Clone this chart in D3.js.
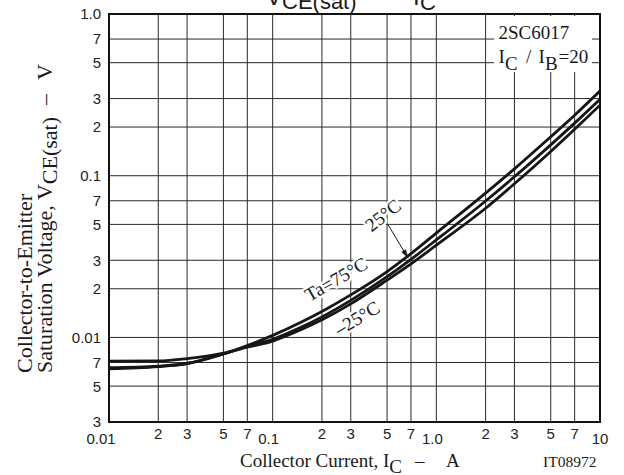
<!DOCTYPE html>
<html>
<head>
<meta charset="utf-8">
<script src="https://cdn.jsdelivr.net/npm/d3@7/dist/d3.min.js"></script>
<style>
  html, body { margin: 0; padding: 0; background: #fff; }
  svg { display: block; }
  .serif { font-family: "Liberation Serif", "Times New Roman", serif; }
  .sans { font-family: "Liberation Sans", Arial, sans-serif; }
</style>
</head>
<body>
<svg id="chart" width="624" height="475"></svg>
<script>
// ---- data ----
const currents = [0.01, 0.02, 0.03, 0.05, 0.07, 0.1, 0.15, 0.2, 0.3, 0.5, 0.7, 1, 2, 3, 5, 7, 10];
const vce75  = [0.0064, 0.0066, 0.0069, 0.0079, 0.0089, 0.0103, 0.01247, 0.01448, 0.01832, 0.02554, 0.03297, 0.0442, 0.0780, 0.1103, 0.1741, 0.2368, 0.334];
const vce25  = [0.0065, 0.00665, 0.0069, 0.0079, 0.0088, 0.00975, 0.0116, 0.0134, 0.01695, 0.02375, 0.0304, 0.0401, 0.0698, 0.0985, 0.1552, 0.2115, 0.297];
const vceM25 = [0.00714, 0.00716, 0.0074, 0.0080, 0.0087, 0.00950, 0.0112, 0.01285, 0.01613, 0.0226, 0.0285, 0.0372, 0.0629, 0.0892, 0.1412, 0.1938, 0.273];

const xTicks = [0.01, 0.02, 0.03, 0.05, 0.07, 0.1, 0.2, 0.3, 0.5, 0.7, 1, 2, 3, 5, 7, 10];
const xTickLabels = ["0.01","2","3","5","7","0.1","2","3","5","7","1.0","2","3","5","7","10"];
const yTicks = [0.003, 0.005, 0.007, 0.01, 0.02, 0.03, 0.05, 0.07, 0.1, 0.2, 0.3, 0.5, 0.7, 1.0];
const yTickLabels = ["3","5","7","0.01","2","3","5","7","0.1","2","3","5","7","1.0"];

// curve labels (anchor in data units: current, voltage), rotation
const curveLabels = [
  { text: "Ta=75°C", i: 0.2436, v: 0.02297, rot: -30 },
  { text: "25°C",    i: 0.4716, v: 0.0571,  rot: -38 },
  { text: "\u201325°C", i: 0.3273, v: 0.01318, rot: -31 }
];
const arrowFrom = { i: 0.5084, v: 0.04956 };
const arrowTo   = { i: 0.6735, v: 0.03085 };

// ---- layout ----
const L = 109, R = 600, T = 14, B = 422;
const svg = d3.select("#chart");
const x = d3.scaleLog().domain([0.01, 10]).range([L, R]);
const y = d3.scaleLog().domain([0.003, 1]).range([B, T]);

// grid
const grid = svg.append("g").attr("stroke", "#2a2a2a").attr("stroke-width", 1).attr("fill", "none");
xTicks.slice(1, -1).forEach(t => {
  grid.append("line").attr("x1", x(t)).attr("x2", x(t)).attr("y1", T).attr("y2", B);
});
yTicks.slice(1, -1).forEach(t => {
  grid.append("line").attr("x1", L).attr("x2", R).attr("y1", y(t)).attr("y2", y(t));
});

// legend box (white) covering grid
svg.append("rect").attr("x", 494).attr("y", 16).attr("width", 98).attr("height", 56).attr("fill", "#fff");

// curves
const series = [vce75, vce25, vceM25];
const line = d3.line().x(d => x(d[0])).y(d => y(d[1])).curve(d3.curveMonotoneX);
svg.append("clipPath").attr("id", "plotclip").append("rect")
  .attr("x", L).attr("y", T).attr("width", R - L).attr("height", B - T);
series.forEach(s => {
  svg.append("path")
    .attr("d", line(currents.map((c, k) => [c, s[k]])))
    .attr("fill", "none").attr("stroke", "#161616").attr("stroke-width", 2.8)
    .attr("stroke-linecap", "round")
    .attr("clip-path", "url(#plotclip)");
});

// frame
svg.append("rect").attr("x", L).attr("y", T).attr("width", R - L).attr("height", B - T)
  .attr("fill", "none").attr("stroke", "#111").attr("stroke-width", 2);

// tick labels
const decade = v => Math.abs(Math.log10(v) - Math.round(Math.log10(v))) < 1e-9;
svg.append("g").attr("class", "sans").attr("font-size", 15).attr("fill", "#222")
  .selectAll("text").data(xTicks).join("text")
  .attr("x", (d, k) => x(d) + (decade(d) ? (k === 0 ? -8 : (k === xTicks.length - 1 ? 0 : -4)) : 0))
  .attr("y", d => decade(d) ? 444 : 439)
  .attr("text-anchor", "middle")
  .text((d, k) => xTickLabels[k]);

svg.append("g").attr("class", "sans").attr("font-size", 15).attr("fill", "#222")
  .selectAll("text").data(yTicks).join("text")
  .attr("x", 101)
  .attr("y", d => y(d))
  .attr("dy", "0.36em")
  .attr("text-anchor", "end")
  .text((d, k) => yTickLabels[k]);

// curve labels with white halo
curveLabels.forEach(c => {
  svg.append("text").attr("class", "serif")
    .attr("font-size", 19)
    .attr("text-anchor", "middle")
    .attr("dy", "0.35em")
    .attr("transform", `translate(${x(c.i)},${y(c.v)}) rotate(${c.rot})`)
    .attr("fill", "#1a1a1a")
    .attr("stroke", "#fff").attr("stroke-width", 5).attr("paint-order", "stroke")
    .attr("stroke-linejoin", "round")
    .text(c.text);
});

// arrow
const ax1 = x(arrowFrom.i), ay1 = y(arrowFrom.v), ax2 = x(arrowTo.i), ay2 = y(arrowTo.v);
svg.append("line").attr("x1", ax1).attr("y1", ay1).attr("x2", ax2).attr("y2", ay2)
  .attr("stroke", "#1a1a1a").attr("stroke-width", 1);
{
  const ang = Math.atan2(ay2 - ay1, ax2 - ax1);
  const len = 9, w = 2.6;
  const bx = ax2 - len * Math.cos(ang), by = ay2 - len * Math.sin(ang);
  const px = -Math.sin(ang) * w, py = Math.cos(ang) * w;
  svg.append("path")
    .attr("d", `M${ax2},${ay2}L${bx + px},${by + py}L${bx - px},${by - py}Z`)
    .attr("fill", "#1a1a1a");
}

// legend text
const lg = svg.append("g").attr("class", "serif").attr("font-size", 19).attr("fill", "#1a1a1a");
lg.append("text").attr("x", 498.5).attr("y", 39).text("2SC6017");
const lg2 = lg.append("text").attr("y", 63);
lg2.append("tspan").attr("x", 498.5).text("I");
lg2.append("tspan").attr("x", 505).attr("dy", 6.5).text("C");
lg2.append("tspan").attr("x", 526).attr("dy", -6.5).text("/");
lg2.append("tspan").attr("x", 538.5).text("I");
lg2.append("tspan").attr("x", 545).attr("dy", 6.5).text("B");
lg2.append("tspan").attr("x", 558.5).attr("dy", -6.5).text("=20");

// title (partially cut at top, as in the reference)
const tt = svg.append("text").attr("class", "sans").attr("fill", "#1a1a1a").attr("font-size", 24).attr("y", 5);
tt.append("tspan").attr("x", 266).text("V");
tt.append("tspan").attr("x", 282).attr("dy", 4).attr("font-size", 22).text("CE(sat)");
tt.append("tspan").attr("x", 380).attr("dy", -4).text("\u2013");
tt.append("tspan").attr("x", 413).text("I");
tt.append("tspan").attr("x", 420).attr("dy", 5).attr("font-size", 22).text("C");

// x axis title
const xt = svg.append("text").attr("class", "serif").attr("font-size", 19).attr("fill", "#1a1a1a").attr("y", 467);
xt.append("tspan").attr("x", 240).text("Collector Current, I");
xt.append("tspan").attr("dy", 6).text("C");
xt.append("tspan").attr("x", 415).attr("dy", -6).text("\u2013");
xt.append("tspan").attr("x", 446).text("A");

// y axis title (two rotated lines)
const yt1 = svg.append("text").attr("class", "serif").attr("font-size", 22).attr("fill", "#1a1a1a")
  .attr("transform", "translate(32,373) rotate(-90)");
yt1.text("Collector-to-Emitter");
const yt2 = svg.append("text").attr("class", "serif").attr("font-size", 22).attr("fill", "#1a1a1a")
  .attr("transform", "translate(52,373) rotate(-90)");
yt2.append("tspan").text("Saturation Voltage, V");
yt2.append("tspan").attr("dy", 5).text("CE(sat)");
yt2.append("tspan").attr("dy", -5).attr("dx", 12).text("\u2013");
yt2.append("tspan").attr("dx", 14).text("V");

// figure code
svg.append("text").attr("class", "serif").attr("font-size", 15.5).attr("fill", "#1a1a1a")
  .attr("x", 543).attr("y", 466.5).text("IT08972");
</script>
</body>
</html>
